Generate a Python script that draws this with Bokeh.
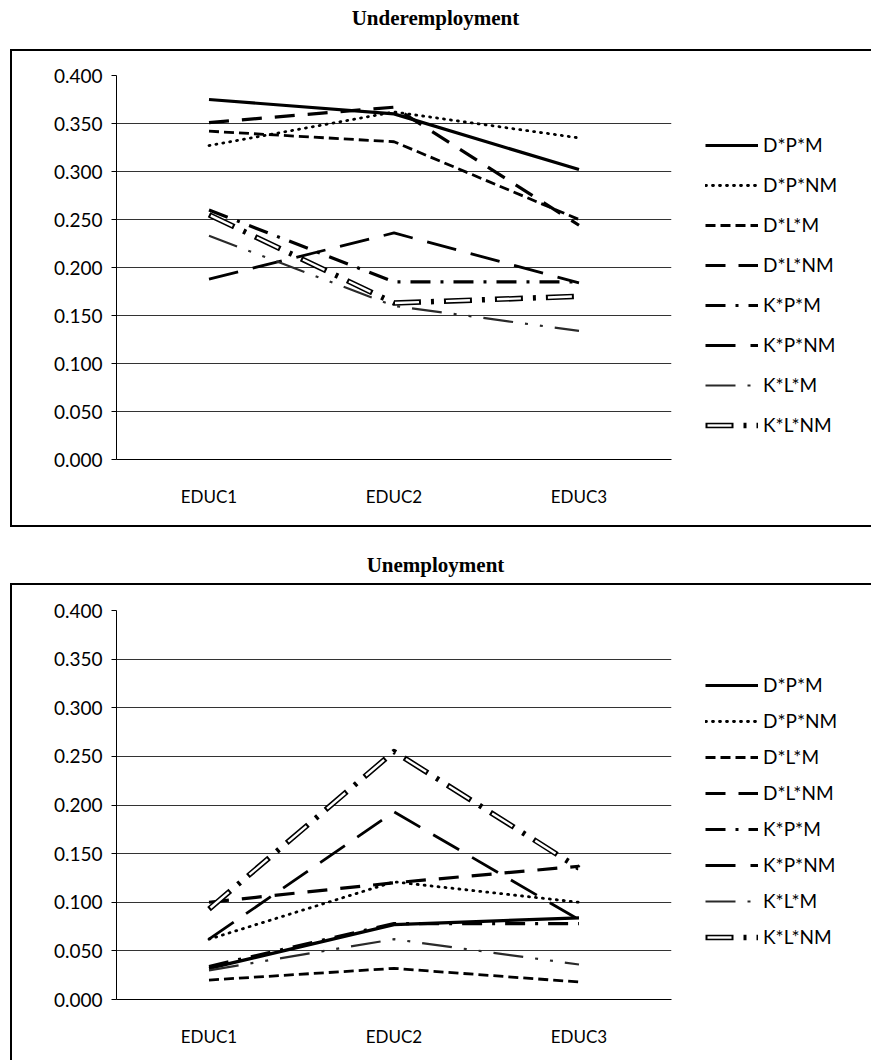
from bokeh.plotting import figure
from bokeh.models import (FactorRange, Range1d, FixedTicker, Legend, LegendItem,
                          NumeralTickFormatter, Div)
from bokeh.layouts import column
from bokeh.embed import file_html
from bokeh.resources import INLINE

# ---------------- data ----------------
categories = ["EDUC1", "EDUC2", "EDUC3"]
series_names = ["D*P*M", "D*P*NM", "D*L*M", "D*L*NM", "K*P*M", "K*P*NM", "K*L*M", "K*L*NM"]
y_ticks = [0.0, 0.05, 0.10, 0.15, 0.20, 0.25, 0.30, 0.35, 0.40]

# Underemployment
under_dpm = [0.375, 0.360, 0.302]
under_dpnm = [0.327, 0.362, 0.335]
under_dlm = [0.342, 0.331, 0.250]
under_dlnm = [0.351, 0.367, 0.244]
under_kpm = [0.260, 0.185, 0.185]
under_kpnm = [0.188, 0.236, 0.184]
under_klm = [0.233, 0.160, 0.134]
under_klnm = [0.255, 0.163, 0.170]

# Unemployment
unemp_dpm = [0.032, 0.077, 0.084]
unemp_dpnm = [0.062, 0.121, 0.100]
unemp_dlm = [0.020, 0.032, 0.018]
unemp_dlnm = [0.100, 0.120, 0.137]
unemp_kpm = [0.034, 0.078, 0.078]
unemp_kpnm = [0.062, 0.193, 0.082]
unemp_klm = [0.030, 0.062, 0.036]
unemp_klnm = [0.093, 0.255, 0.135]

under_values = [under_dpm, under_dpnm, under_dlm, under_dlnm,
                under_kpm, under_kpnm, under_klm, under_klnm]
unemp_values = [unemp_dpm, unemp_dpnm, unemp_dlm, unemp_dlnm,
                unemp_kpm, unemp_kpnm, unemp_klm, unemp_klnm]

# ---------------- styles ----------------
STYLES = {
    "D*P*M": dict(line_color="black", line_width=3.2, line_dash="solid"),
    "D*P*NM": dict(line_color="black", line_width=2.8, line_dash="1 6", line_cap="round"),
    "D*L*M": dict(line_color="black", line_width=2.8, line_dash="10 5"),
    "D*L*NM": dict(line_color="black", line_width=3.2, line_dash="20 13"),
    "K*P*M": dict(line_color="black", line_width=3.2, line_dash="20 10 3 10"),
    "K*P*NM": dict(line_color="black", line_width=2.8, line_dash="30 15"),
    "K*L*M": dict(line_color="#2a2a2a", line_width=2.2, line_dash="30 12 3 12 3 12"),
}

FONT = "Lato"
TITLE_FONT = "Liberation Serif"


def make_title(text, height, center_y):
    return Div(text=text, width=871, height=height,
               styles={"font-family": TITLE_FONT, "font-size": "21px",
                       "font-weight": "bold", "color": "black",
                       "text-align": "center", "line-height": f"{2 * center_y}px",
                       "overflow": "visible", "margin": "0", "padding": "0"})


def make_chart(values, frame_top, frame_height, bottom_space, legend_loc, spacing,
               border_css):
    p = figure(frame_width=551, frame_height=frame_height,
               x_range=FactorRange(*categories), y_range=Range1d(0, 0.4),
               min_border_left=104, min_border_right=199,
               min_border_top=frame_top, min_border_bottom=bottom_space,
               toolbar_location=None, output_backend="svg",
               outline_line_color=None, margin=(0, 0, 0, 10),
               styles=border_css)
    p.title.visible = False

    p.xgrid.visible = False
    p.ygrid.grid_line_color = "#333333"
    p.ygrid.grid_line_width = 1

    p.yaxis.ticker = FixedTicker(ticks=y_ticks)
    p.yaxis.formatter = NumeralTickFormatter(format="0.000")
    p.yaxis.major_tick_out = 5
    p.yaxis.major_tick_in = 0
    p.yaxis.minor_tick_out = 0
    p.yaxis.minor_tick_in = 0
    p.yaxis.axis_line_color = "black"
    p.yaxis.major_label_standoff = 9
    p.yaxis.major_label_text_font = FONT
    p.yaxis.major_label_text_font_size = "19px"
    p.yaxis.major_label_text_color = "black"

    p.xaxis.major_tick_out = 0
    p.xaxis.major_tick_in = 0
    p.xaxis.axis_line_color = "black"
    p.xaxis.major_label_standoff = 26
    p.xaxis.major_label_text_font = FONT
    p.xaxis.major_label_text_font_size = "17px"
    p.xaxis.major_label_text_color = "black"

    items = []
    for name, vals in zip(series_names, values):
        if name == "K*L*NM":
            r1 = p.line(categories, vals, line_color="black", line_width=5.5,
                        line_dash="28 10 3 10", line_join="round")
            r2 = p.line(categories, vals, line_color="white", line_width=2.4,
                        line_dash="24 27", line_dash_offset=49, line_join="round")
            items.append(LegendItem(label=name, renderers=[r1, r2]))
        else:
            r = p.line(categories, vals, line_join="round", **STYLES[name])
            items.append(LegendItem(label=name, renderers=[r]))

    legend = Legend(items=items, location=legend_loc, orientation="vertical",
                    glyph_width=53, glyph_height=20, label_height=20, spacing=spacing,
                    padding=0, margin=0, border_line_color=None,
                    background_fill_alpha=0, label_standoff=5,
                    label_text_font=FONT, label_text_font_size="19px",
                    label_text_color="black")
    p.add_layout(legend, "right")
    return p


title_top = make_title("Underemployment", 49, 18)
chart_top = make_chart(under_values, 24, 380, 70, (34, 23), 17,
                       {"border": "2px solid black", "box-sizing": "content-box"})
title_bottom = make_title("Unemployment", 56, 38)
chart_bottom = make_chart(unemp_values, 25, 387, 63, (34, 51), 13,
                          {"border": "2px solid black", "border-bottom": "none",
                           "box-sizing": "content-box"})

layout = column(title_top, chart_top, title_bottom, chart_bottom, spacing=0)
open("out.html", "w").write(file_html(layout, INLINE))
